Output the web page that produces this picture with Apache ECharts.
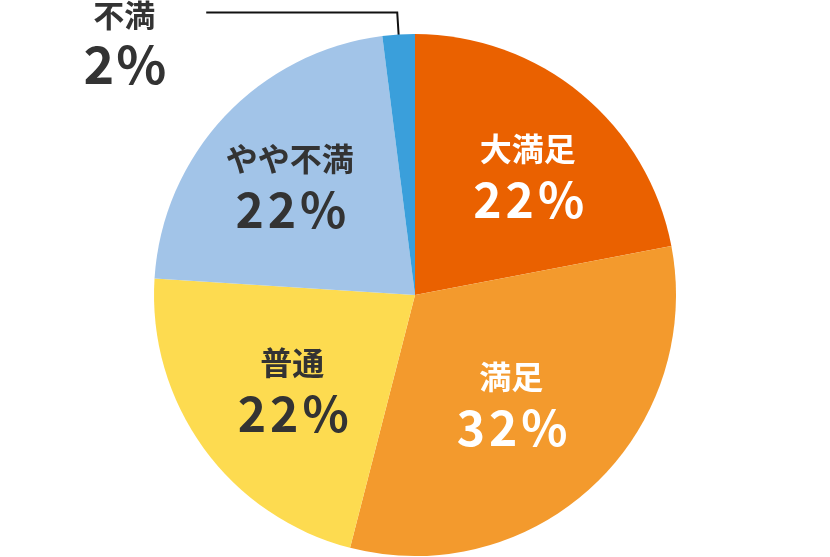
<!DOCTYPE html>
<html><head><meta charset="utf-8">
<script src="https://cdn.jsdelivr.net/npm/echarts@6/dist/echarts.min.js"></script>
<style>html,body{margin:0;padding:0;background:#fff}#c{width:830px;height:557px}</style>
</head><body><div id="c"></div>
<script>
const categories = ['大満足', '満足', '普通', 'やや不満', '不満'];
const values = [22, 32, 22, 22, 2];
const colors = ['#EA6100', '#F39A2D', '#FDDB50', '#A2C4E8', '#3A9FDB'];
const labelColors = ['#ffffff', '#ffffff', '#333333', '#333333', '#333333'];
// small per-label nudges (px) from the default inside position
const labelNudge = [[12, 2], [-12, -7], [5, 1], [-10, -2], [0, 0]];

const FONT = '"Noto Sans CJK JP", "Noto Sans", sans-serif';
const chart = echarts.init(document.getElementById('c'));
const center = [415, 295];

function fmt(p) {
  const chars = (p.value + '%').split('');
  const v = chars.map(ch => ch === '%' ? '{p|%}' : '{d|' + ch + '}').join('');
  return '{n|' + p.name + '}\n' + v;
}
function richFor(color, nSize, vSize, nLH, vLH, pad) {
  const base = { fontWeight: 'bold', color: color, fontFamily: FONT, align: 'center' };
  return {
    n: Object.assign({}, base, { fontSize: nSize, lineHeight: nLH }),
    d: Object.assign({}, base, { fontSize: vSize, lineHeight: vLH, padding: [0, pad, 0, pad] }),
    p: Object.assign({}, base, { fontSize: vSize, lineHeight: vLH, padding: [0, 0, 0, pad] })
  };
}

const mainData = categories.map((n, i) => ({ name: n, value: values[i], itemStyle: { color: colors[i] } }));
const labelData = categories.map((n, i) => {
  const last = i === categories.length - 1;
  const item = { name: n, value: values[i] };
  if (last) {
    item.label = {
      position: 'outside',
      distanceToLabelLine: 40,
      padding: [63, 0, 0, 0],
      rich: richFor(labelColors[i], 31, 52, 40, 57, 1)
    };
    item.labelLine = { show: true, length: 85, length2: 191, lineStyle: { color: '#111', width: 2 } };
  } else {
    item.label = {
      position: 'inside',
      rich: richFor(labelColors[i], 32, 48, 50, 52, 2)
    };
    item.labelLine = { show: false };
  }
  return item;
});

chart.setOption({
  animation: false,
  series: [
    {
      type: 'pie', center: center, radius: 261, startAngle: 90, clockwise: true,
      silent: true, label: { show: false }, labelLine: { show: false },
      itemStyle: { borderWidth: 0 },
      data: mainData
    },
    {
      type: 'pie', center: center, radius: [112, 198], startAngle: 90, clockwise: true,
      silent: true, avoidLabelOverlap: false,
      itemStyle: { color: 'rgba(0,0,0,0)', borderWidth: 0 },
      label: { show: true, formatter: fmt, fontFamily: FONT },
      labelLayout: function (p) {
        const nd = labelNudge[p.dataIndex];
        return { dx: nd[0], dy: nd[1] };
      },
      data: labelData
    }
  ]
});
</script></body></html>
